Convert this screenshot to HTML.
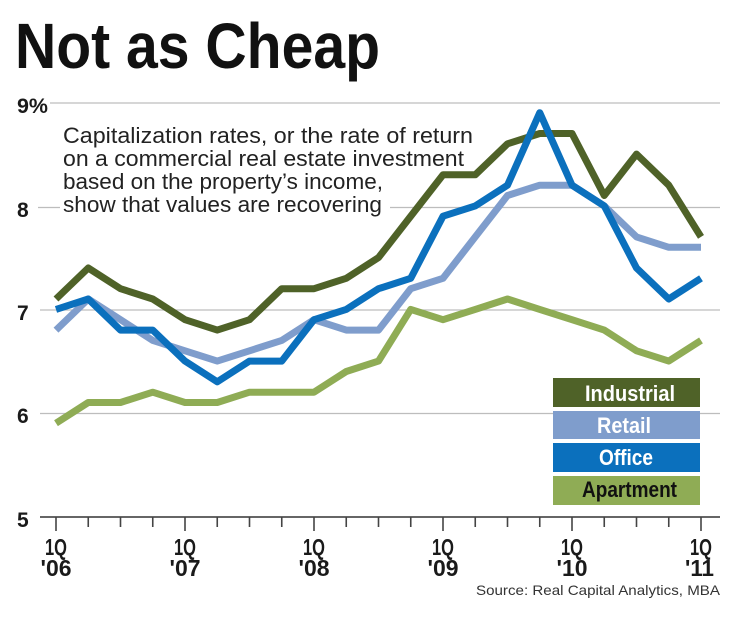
<!DOCTYPE html>
<html><head><meta charset="utf-8"><style>
html,body{margin:0;padding:0;background:#fff;}
svg{display:block;}
text{font-family:"Liberation Sans",sans-serif;}
</style></head><body>
<svg width="740" height="620" viewBox="0 0 740 620" xmlns="http://www.w3.org/2000/svg">
<rect width="740" height="620" fill="#fff"/>
<!-- Title -->
<text x="15" y="68" font-size="64" font-weight="bold" fill="#111" textLength="365" lengthAdjust="spacingAndGlyphs">Not as Cheap</text>

<!-- gridlines -->
<g stroke="#bdbdbd" stroke-width="1.2">
<line x1="50" y1="103" x2="720" y2="103"/>
<line x1="38" y1="207.5" x2="720" y2="207.5"/>
<line x1="40" y1="310" x2="720" y2="310"/>
<line x1="40" y1="413.5" x2="720" y2="413.5"/>
</g>

<!-- y labels -->
<g font-size="21" font-weight="bold" fill="#1a1a1a">
<text x="17" y="113" textLength="31" lengthAdjust="spacingAndGlyphs">9%</text>
<text x="17" y="217">8</text>
<text x="17" y="320">7</text>
<text x="17" y="423">6</text>
<text x="17" y="527">5</text>
</g>

<!-- annotation -->
<rect x="60" y="195" width="330" height="23" fill="#fff"/>
<g font-size="22" fill="#222">
<text x="63" y="143" textLength="410" lengthAdjust="spacingAndGlyphs">Capitalization rates, or the rate of return</text>
<text x="63" y="166" textLength="401" lengthAdjust="spacingAndGlyphs">on a commercial real estate investment</text>
<text x="63" y="189" textLength="320" lengthAdjust="spacingAndGlyphs">based on the property’s income,</text>
<text x="63" y="212" textLength="319" lengthAdjust="spacingAndGlyphs">show that values are recovering</text>
</g>

<!-- axis -->
<line x1="40" y1="517" x2="720" y2="517" stroke="#333" stroke-width="1.6"/>
<g stroke="#444" stroke-width="1.6">
<line x1="56" y1="517" x2="56" y2="531"/>
<line x1="88.25" y1="517" x2="88.25" y2="527"/>
<line x1="120.5" y1="517" x2="120.5" y2="527"/>
<line x1="152.75" y1="517" x2="152.75" y2="527"/>
<line x1="185" y1="517" x2="185" y2="531"/>
<line x1="217.25" y1="517" x2="217.25" y2="527"/>
<line x1="249.5" y1="517" x2="249.5" y2="527"/>
<line x1="281.75" y1="517" x2="281.75" y2="527"/>
<line x1="314" y1="517" x2="314" y2="531"/>
<line x1="346.25" y1="517" x2="346.25" y2="527"/>
<line x1="378.5" y1="517" x2="378.5" y2="527"/>
<line x1="410.75" y1="517" x2="410.75" y2="527"/>
<line x1="443" y1="517" x2="443" y2="531"/>
<line x1="475.25" y1="517" x2="475.25" y2="527"/>
<line x1="507.5" y1="517" x2="507.5" y2="527"/>
<line x1="539.75" y1="517" x2="539.75" y2="527"/>
<line x1="572" y1="517" x2="572" y2="531"/>
<line x1="604.25" y1="517" x2="604.25" y2="527"/>
<line x1="636.5" y1="517" x2="636.5" y2="527"/>
<line x1="668.75" y1="517" x2="668.75" y2="527"/>
<line x1="701" y1="517" x2="701" y2="531"/>
</g>

<!-- x labels -->
<g font-size="23" font-weight="bold" fill="#1a1a1a">
<text x="45" y="555" textLength="22" lengthAdjust="spacingAndGlyphs">1Q</text>
<text x="40.5" y="576" textLength="31" lengthAdjust="spacingAndGlyphs">'06</text>
<text x="174" y="555" textLength="22" lengthAdjust="spacingAndGlyphs">1Q</text>
<text x="169.5" y="576" textLength="31" lengthAdjust="spacingAndGlyphs">'07</text>
<text x="303" y="555" textLength="22" lengthAdjust="spacingAndGlyphs">1Q</text>
<text x="298.5" y="576" textLength="31" lengthAdjust="spacingAndGlyphs">'08</text>
<text x="432" y="555" textLength="22" lengthAdjust="spacingAndGlyphs">1Q</text>
<text x="427.5" y="576" textLength="31" lengthAdjust="spacingAndGlyphs">'09</text>
<text x="561" y="555" textLength="22" lengthAdjust="spacingAndGlyphs">1Q</text>
<text x="556.5" y="576" textLength="31" lengthAdjust="spacingAndGlyphs">'10</text>
<text x="690" y="555" textLength="22" lengthAdjust="spacingAndGlyphs">1Q</text>
<text x="685" y="576" textLength="29" lengthAdjust="spacingAndGlyphs">'11</text>
</g>

<text x="476" y="595" font-size="14" fill="#333" textLength="244" lengthAdjust="spacingAndGlyphs">Source: Real Capital Analytics, MBA</text>

<!-- series -->
<g fill="none" stroke-width="7" stroke-linejoin="round">
<!-- Apartment -->
<polyline stroke="#8fac55" points="56,423.2 88.25,402.5 120.5,402.5 152.75,392.2 185,402.5 217.25,402.5 249.5,392.2 281.75,392.2 314,392.2 346.25,371.5 378.5,361.1 410.75,309.4 443,319.7 475.25,309.4 507.5,299 539.75,309.4 572,319.7 604.25,330.1 636.5,350.8 668.75,361.1 701,340.4"/>
<!-- Retail -->
<polyline stroke="#7f9dcc" points="56,330.1 88.25,299 120.5,319.7 152.75,340.4 185,350.8 217.25,361.1 249.5,350.8 281.75,340.4 314,319.7 346.25,330.1 378.5,330.1 410.75,288.7 443,278.3 475.25,236.9 507.5,195.5 539.75,185.2 572,185.2 604.25,205.9 636.5,236.9 668.75,247.3 701,247.3"/>
<!-- Industrial -->
<polyline stroke="#4f6228" points="56,299 88.25,268 120.5,288.7 152.75,299 185,319.7 217.25,330.1 249.5,319.7 281.75,288.7 314,288.7 346.25,278.3 378.5,257.6 410.75,216.2 443,174.8 475.25,174.8 507.5,143.8 539.75,133.5 572,133.5 604.25,195.5 636.5,154.1 668.75,185.2 701,236.9"/>
<!-- Office -->
<polyline stroke="#0b70bd" points="56,309.4 88.25,299 120.5,330.1 152.75,330.1 185,361.1 217.25,381.8 249.5,361.1 281.75,361.1 314,319.7 346.25,309.4 378.5,288.7 410.75,278.3 443,216.2 475.25,205.9 507.5,185.2 539.75,112.7 572,185.2 604.25,205.9 636.5,268 668.75,299 701,278.3"/>
</g>

<!-- legend -->
<rect x="553" y="378" width="147" height="29" fill="#4f6228"/>
<rect x="553" y="411" width="147" height="28" fill="#7f9dcc"/>
<rect x="553" y="443" width="147" height="29" fill="#0b70bd"/>
<rect x="553" y="476" width="147" height="29" fill="#8fac55"/>
<g font-size="22" font-weight="bold">
<text x="585" y="401" fill="#fff" textLength="90" lengthAdjust="spacingAndGlyphs">Industrial</text>
<text x="597" y="433" fill="#fff" textLength="54" lengthAdjust="spacingAndGlyphs">Retail</text>
<text x="599" y="465" fill="#fff" textLength="54" lengthAdjust="spacingAndGlyphs">Office</text>
<text x="582" y="497" fill="#111" textLength="95" lengthAdjust="spacingAndGlyphs">Apartment</text>
</g>
</svg>
</body></html>
